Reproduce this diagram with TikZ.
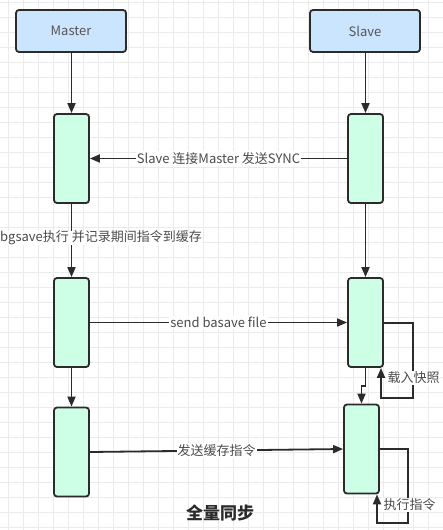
\documentclass[tikz,border=0pt]{standalone}
\usepackage{fontspec}
\setmainfont{Noto Sans CJK SC}
\usetikzlibrary{arrows.meta}
\definecolor{hdrfill}{HTML}{CCE5FF}
\definecolor{actfill}{HTML}{CCFFE6}
\definecolor{edge}{HTML}{2B2B2B}
\definecolor{gridc}{HTML}{EBEBEB}
\begin{document}
\begin{tikzpicture}[x=1pt,y=-1pt,
  hdr/.style={draw=edge,line width=1.8pt,fill=hdrfill,rounded corners=3pt,minimum width=110pt,minimum height=42pt,inner sep=0pt,font=\fontsize{13}{15}\selectfont,text=edge!80},
  act/.style={draw=edge,line width=1.8pt,fill=actfill,rounded corners=3pt,minimum width=35pt,minimum height=89pt,inner sep=0pt},
  conn/.style={draw=edge,line width=1.8pt,-{Triangle[length=10pt,width=8pt]}},
  lbl/.style={fill=white,inner sep=1pt,font=\fontsize{13}{15}\selectfont,text=edge!85}]
\useasboundingbox (0,0) rectangle (443,530);
\fill[white] (0,0) rectangle (443,530);
\foreach \x in {8.3,23.3,...,443} \draw[gridc,line width=0.6pt] (\x,0) -- (\x,530);
\foreach \y in {2.3,17.3,...,530} \draw[gridc,line width=0.6pt] (0,\y) -- (443,\y);
% headers
\node[hdr] (master) at (71,31) {Master};
\node[hdr] (slave) at (365,31) {Slave};
% activation boxes
\node[act] (m1) at (71.5,158.5) {};
\node[act] (s1) at (365.5,158.5) {};
\node[act] (m2) at (71.5,322.5) {};
\node[act] (s2) at (365.5,322.5) {};
\node[act] (m3) at (71.5,452) {};
\node[act] (s3) at (361.5,449) {};
% vertical flows
\draw[conn] (master.south -| m1.north) -- (m1.north);
\draw[conn] (slave.south -| s1.north) -- (s1.north);
\draw[conn] (m1.south) -- (m2.north);
\draw[conn] (s1.south) -- (s2.north);
\draw[conn] (m2.south) -- (m3.north);
\coordinate (bend1) at (365.5,386);
\draw[conn] (s2.south) -- (bend1) -| (s3.north);
% messages
\draw[conn] (s1.west) -- node[lbl] (l1) {Slave 连接Master 发送SYNC} (m1.east);
\draw[conn] (m2.east) -- node[lbl] (l3) {send basave file} (s2.west);
\draw[conn] (m3.east) -- node[lbl] (l4) {发送缓存指令} (s3.west);
% label on m1->m2
\node[lbl,anchor=west,inner sep=0pt] (l2) at (0,238) {bgsave执行 并记录期间指令到缓存};
% self loops
\coordinate (lp1a) at (413,323);
\coordinate (lp1b) at (413,398);
\coordinate (lp1c) at (381,398);
\draw[conn] (s2.east |- lp1a) -- (lp1a) -- (lp1b) -- (lp1c) -- (lp1c |- s2.south);
\node[lbl,anchor=west,inner sep=0.5pt] (l5) at (387,378) {载入快照};
\coordinate (lp2a) at (408,449);
\coordinate (lp2b) at (408,523);
\coordinate (lp2c) at (377,523);
\draw[conn] (s3.east |- lp2a) -- (lp2a) -- (lp2b) -- (lp2c) -- (lp2c |- s3.south);
\node[lbl,anchor=west,inner sep=0.5pt] (l6) at (383,505) {执行指令};
% title
\node[font=\fontsize{17}{20}\selectfont\bfseries,text=edge] (title) at (220,513) {全量同步};
\end{tikzpicture}
\end{document}
